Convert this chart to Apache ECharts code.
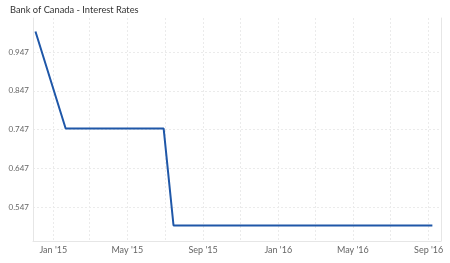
<!DOCTYPE html>
<html><head><meta charset="utf-8">
<script src="https://cdn.jsdelivr.net/npm/echarts@6/dist/echarts.min.js"></script>
<style>html,body{margin:0;padding:0;background:#fff}#c{width:450px;height:263px}</style>
</head><body><div id="c"></div>
<script>
const titleText = 'Bank of Canada - Interest Rates';
const dates = ['2014-12-03','2015-01-21','2015-03-04','2015-04-15','2015-05-27','2015-06-29','2015-07-15','2015-09-09','2015-10-21','2015-12-02','2016-01-20','2016-03-09','2016-04-13','2016-05-25','2016-07-13','2016-09-07'];
const rates = [1.0,0.75,0.75,0.75,0.75,0.75,0.5,0.5,0.5,0.5,0.5,0.5,0.5,0.5,0.5,0.5];
const yTicks = [0.547,0.647,0.747,0.847,0.947];
const gridDates = ['2015-01-01','2015-03-01','2015-05-01','2015-07-01','2015-09-01','2015-11-01','2016-01-01','2016-03-01','2016-05-01','2016-07-01','2016-09-01'];
const labelDates = ['2015-01-01','2015-05-01','2015-09-01','2016-01-01','2016-05-01','2016-09-01'];
const xMin = '2014-11-29', xMax = '2016-09-21';
const yMin = 0.46, yMax = 1.035;

const ts = s => new Date(s + 'T00:00:00Z').getTime();
const months = ['Jan','Feb','Mar','Apr','May','Jun','Jul','Aug','Sep','Oct','Nov','Dec'];
const font = 'Lato, "Open Sans", sans-serif';
const chart = echarts.init(document.getElementById('c'), null, {renderer:'canvas'});
chart.setOption({
  animation:false,
  title:{text:titleText,left:10,top:5,padding:0,textStyle:{fontFamily:font,fontSize:9.3,fontWeight:'normal',color:'#333'}},
  grid:{left:33,right:9,top:18,bottom:22,containLabel:false},
  xAxis:{type:'value',min:ts(xMin),max:ts(xMax),
    axisLine:{show:true,lineStyle:{color:'#e6e6e6'}},
    axisTick:{show:false,customValues:gridDates.map(ts)},
    axisLabel:{customValues:labelDates.map(ts),color:'#666',fontFamily:font,fontSize:9,margin:5,
      formatter:v=>{const d=new Date(v);return months[d.getUTCMonth()]+" '"+String(d.getUTCFullYear()).slice(2);}},
    splitLine:{show:true,lineStyle:{color:'#ebebeb',type:[2,2]}}},
  yAxis:[{type:'value',min:yMin,max:yMax,
    axisLine:{show:true,lineStyle:{color:'#e6e6e6'}},
    axisTick:{show:false,customValues:yTicks},
    axisLabel:{customValues:yTicks,color:'#666',fontFamily:font,fontSize:8,margin:4,formatter:v=>v.toFixed(3)},
    splitLine:{show:true,lineStyle:{color:'#ebebeb',type:[2,2]}}},
   {type:'value',min:yMin,max:yMax,position:'right',
    axisLine:{show:true,lineStyle:{color:'#e6e6e6'}},axisTick:{show:false},axisLabel:{show:false},splitLine:{show:false}}],
  series:[{type:'line',data:dates.map((d,i)=>[ts(d),rates[i]]),showSymbol:false,symbol:'none',
    lineStyle:{color:'#1f57a8',width:2},itemStyle:{color:'#1f57a8'}}]
});
</script></body></html>
